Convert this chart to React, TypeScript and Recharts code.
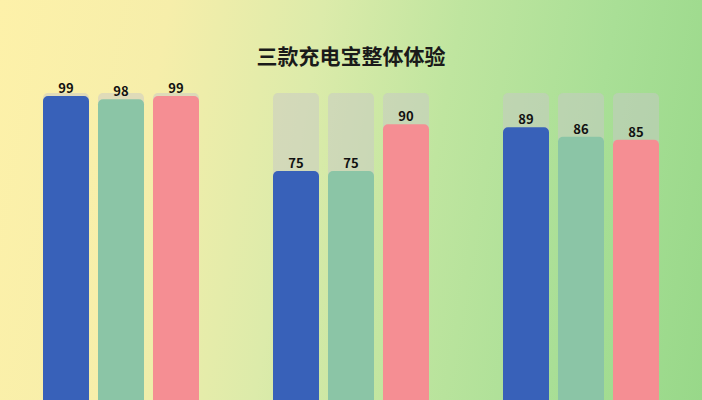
import { BarChart, Bar, XAxis, YAxis, LabelList } from 'recharts'

// 三款充电宝 — 三个维度的得分
const groups = ['A', 'B', 'C']
const blueValues = [99, 75, 89]
const greenValues = [98, 75, 86]
const pinkValues = [99, 90, 85]

const data = groups.map((g, i) => ({
  group: g,
  blue: blueValues[i],
  green: greenValues[i],
  pink: pinkValues[i],
}))

const trackStyle = { fill: 'rgba(200, 200, 200, 0.5)', radius: 5 }

export default function App() {
  return (
    <div
      style={{
        position: 'fixed',
        left: 0,
        top: 0,
        width: 702,
        height: 400,
        overflow: 'hidden',
        background: 'linear-gradient(100deg, #fdf1a9 0%, #f6eeaa 22%, #dcebaa 42%, #bfe59f 60%, #a9df96 80%, #98d889 100%)',
        fontFamily: '"Noto Sans CJK SC", "Noto Sans", sans-serif',
      }}
    >
      {/* Title */}
      <div
        style={{
          position: 'absolute',
          top: 40,
          left: 0,
          width: 702,
          textAlign: 'center',
          fontSize: 21,
          fontWeight: 700,
          color: '#1a1a1a',
        }}
      >
        三款充电宝整体体验
      </div>

      <BarChart
        width={702}
        height={405}
        data={data}
        margin={{ top: 93, right: 6, left: 6, bottom: 0 }}
        barCategoryGap={37}
        barGap={9}
      >
        <XAxis dataKey="group" hide />
        <YAxis domain={[0, 100]} hide />
        <Bar dataKey="blue" fill="#3861b9" radius={[5, 5, 0, 0]} background={trackStyle} isAnimationActive={false}>
          <LabelList dataKey="blue" position="top" offset={3} fill="#111" fontSize={13} fontWeight={700} />
        </Bar>
        <Bar dataKey="green" fill="#8bc5a6" radius={[5, 5, 0, 0]} background={trackStyle} isAnimationActive={false}>
          <LabelList dataKey="green" position="top" offset={3} fill="#111" fontSize={13} fontWeight={700} />
        </Bar>
        <Bar dataKey="pink" fill="#f58e93" radius={[5, 5, 0, 0]} background={trackStyle} isAnimationActive={false}>
          <LabelList dataKey="pink" position="top" offset={3} fill="#111" fontSize={13} fontWeight={700} />
        </Bar>
      </BarChart>
    </div>
  )
}
